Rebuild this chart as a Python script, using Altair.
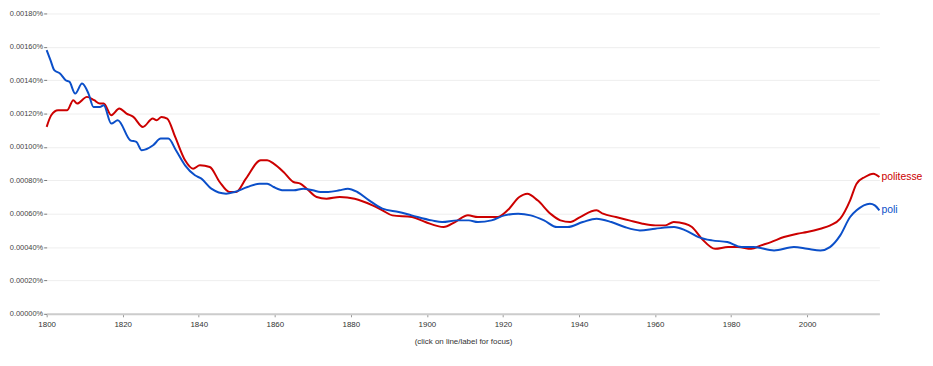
import altair as alt
import pandas as pd

# poli (blue)
poli_years = [1800, 1801, 1802, 1803.5, 1805, 1806, 1807.5, 1809.3, 1811, 1812.3, 1814, 1815,
              1817, 1818.7, 1822, 1823.6, 1825, 1828, 1830, 1832, 1834, 1836.4, 1839, 1840.7,
              1843.3, 1847.2, 1849.4, 1852.8, 1856, 1858, 1859.7, 1862.3, 1865, 1867.5, 1870,
              1872, 1874, 1877, 1879.2, 1881.7, 1884.8, 1888.3, 1892.6, 1896, 1901.3, 1904,
              1908, 1911, 1913.4, 1917, 1920.4, 1924, 1927.3, 1930.8, 1934.2, 1937, 1941,
              1944.6, 1948.5, 1952, 1956, 1960, 1965, 1968, 1971.4, 1975, 1979, 1982.7, 1986,
              1991.3, 1996.5, 2000, 2003.5, 2006, 2008.7, 2011.3, 2013, 2016.5, 2017.8, 2019]
poli_vals = [0.00158, 0.00152, 0.00146, 0.00144, 0.00140, 0.00139, 0.00132, 0.00138, 0.00132,
             0.00124, 0.00124, 0.00125, 0.00114, 0.00116, 0.00104, 0.00103, 0.00098, 0.00101,
             0.00105, 0.00105, 0.00098, 0.00089, 0.00083, 0.00081, 0.00075, 0.00072, 0.00073,
             0.00076, 0.00078, 0.00078, 0.00076, 0.00074, 0.00074, 0.00075, 0.00074, 0.00073,
             0.00073, 0.00074, 0.00075, 0.00073, 0.00068, 0.00063, 0.00061, 0.00059, 0.00056,
             0.00055, 0.00056, 0.00056, 0.00055, 0.00056, 0.00059, 0.00060, 0.00059, 0.00056,
             0.00052, 0.00052, 0.00055, 0.00057, 0.00055, 0.00052, 0.00050, 0.00051, 0.00052,
             0.00050, 0.00046, 0.00044, 0.00043, 0.00040, 0.00040, 0.00038, 0.00040, 0.00039,
             0.00038, 0.00040, 0.00047, 0.00058, 0.00062, 0.00066, 0.00065, 0.00062]

# politesse (red)
polit_years = [1800, 1801.2, 1803, 1805.4, 1807, 1808, 1810.6, 1812.5, 1814, 1815, 1817, 1819.1,
               1821, 1822.8, 1825.3, 1827.9, 1828.9, 1830.2, 1831.7, 1833.8, 1836.4, 1838.5,
               1840.3, 1842.9, 1845.5, 1848.1, 1849.8, 1852.4, 1856.3, 1858, 1859.7, 1862.3,
               1864.9, 1866.7, 1868.4, 1871, 1873.6, 1877.1, 1881, 1885.7, 1888.3, 1890.9,
               1896.1, 1899.6, 1904.4, 1907.4, 1910.8, 1913.4, 1918.6, 1921.2, 1924.3, 1926.4,
               1929.1, 1932.5, 1935.1, 1937.7, 1940.3, 1944.6, 1946.3, 1949.7, 1953.2, 1956.7,
               1960.1, 1962.7, 1964.9, 1967.9, 1969.7, 1972.3, 1975.8, 1979.2, 1981.8, 1985.3,
               1987.9, 1990.5, 1993.9, 1997.4, 2000, 2003.5, 2006.1, 2008.7, 2011.3, 2013,
               2015.2, 2017.4, 2019]
polit_vals = [0.00112, 0.00119, 0.00122, 0.00122, 0.00128, 0.00126, 0.00130, 0.00128, 0.00126,
              0.00126, 0.00119, 0.00123, 0.00120, 0.00118, 0.00112, 0.00117, 0.00116, 0.00118,
              0.00117, 0.00106, 0.00092, 0.00087, 0.00089, 0.00088, 0.00079, 0.00073, 0.00073,
              0.00081, 0.00092, 0.00092, 0.00090, 0.00085, 0.00079, 0.00078, 0.00075, 0.00070,
              0.00069, 0.00070, 0.00069, 0.00065, 0.00062, 0.00059, 0.00058, 0.00055, 0.00052,
              0.00055, 0.00059, 0.00058, 0.00058, 0.00062, 0.00070, 0.00072, 0.00068, 0.00060,
              0.00056, 0.00055, 0.00058, 0.00062, 0.00060, 0.00058, 0.00056, 0.00054, 0.00053,
              0.00053, 0.00055, 0.00054, 0.00052, 0.00045, 0.00039, 0.00040, 0.00040, 0.00039,
              0.00041, 0.00043, 0.00046, 0.00048, 0.00049, 0.00051, 0.00053, 0.00057, 0.00068,
              0.00078, 0.00082, 0.00084, 0.00082]

series = ["politesse", "poli"]
colors = ["#cc0000", "#0b4fc9"]
x_ticks = [1800, 1820, 1840, 1860, 1880, 1900, 1920, 1940, 1960, 1980, 2000]
y_ticks = [0, 0.0002, 0.0004, 0.0006, 0.0008, 0.0010, 0.0012, 0.0014, 0.0016, 0.0018]

df = pd.concat([
    pd.DataFrame({"year": polit_years, "value": polit_vals, "word": "politesse"}),
    pd.DataFrame({"year": poli_years, "value": poli_vals, "word": "poli"}),
])
labels = pd.DataFrame({
    "year": [polit_years[-1], poli_years[-1]],
    "value": [polit_vals[-1], poli_vals[-1]],
    "word": series,
})

color = alt.Color("word:N", scale=alt.Scale(domain=series, range=colors), legend=None)
xenc = alt.X("year:Q", scale=alt.Scale(domain=[1800, 2019], nice=False, zero=False),
             axis=alt.Axis(values=x_ticks, tickCount=len(x_ticks), format="d", grid=False,
                           domainColor="#cccccc", domainWidth=2, tickColor="#999999",
                           tickSize=3, labelPadding=4,
                           labelFlush=False, labelOverlap=False,
                           labelFontSize=8, labelColor="#333333", labelFont="Liberation Sans",
                           title="(click on line/label for focus)", titleFontSize=8,
                           titleFontWeight="normal", titleColor="#333333",
                           titleFont="Liberation Sans", titlePadding=9))
yenc = alt.Y("value:Q", scale=alt.Scale(domain=[0, 0.0018], nice=False),
             axis=alt.Axis(values=y_ticks, tickCount=len(y_ticks),
                           labelExpr="format(datum.value, '.5f') + '%'",
                           domain=False, grid=True, gridColor="#eeeeee", gridWidth=1,
                           tickColor="#777777", tickSize=3, labelPadding=1,
                           labelFlush=False, labelOverlap=False,
                           labelFontSize=7.5, labelColor="#444444",
                           labelFont="Liberation Sans", title=None))

lines = alt.Chart(df).mark_line(interpolate="monotone", strokeWidth=2).encode(
    x=xenc, y=yenc, color=color, detail="word:N")
text = alt.Chart(labels).mark_text(align="left", baseline="middle", dx=2, fontSize=10.5,
                                   font="Liberation Sans").encode(
    x=xenc, y=yenc, text="word:N", color=color)

chart = alt.layer(lines, text).properties(
    width=840, height=303,
    autosize=alt.AutoSizeParams(type="none"),
    padding={"left": 39, "top": 4, "right": 46, "bottom": 35},
).configure_view(stroke=None)

chart.save("out.html", embed_options={"renderer": "svg", "actions": False})
